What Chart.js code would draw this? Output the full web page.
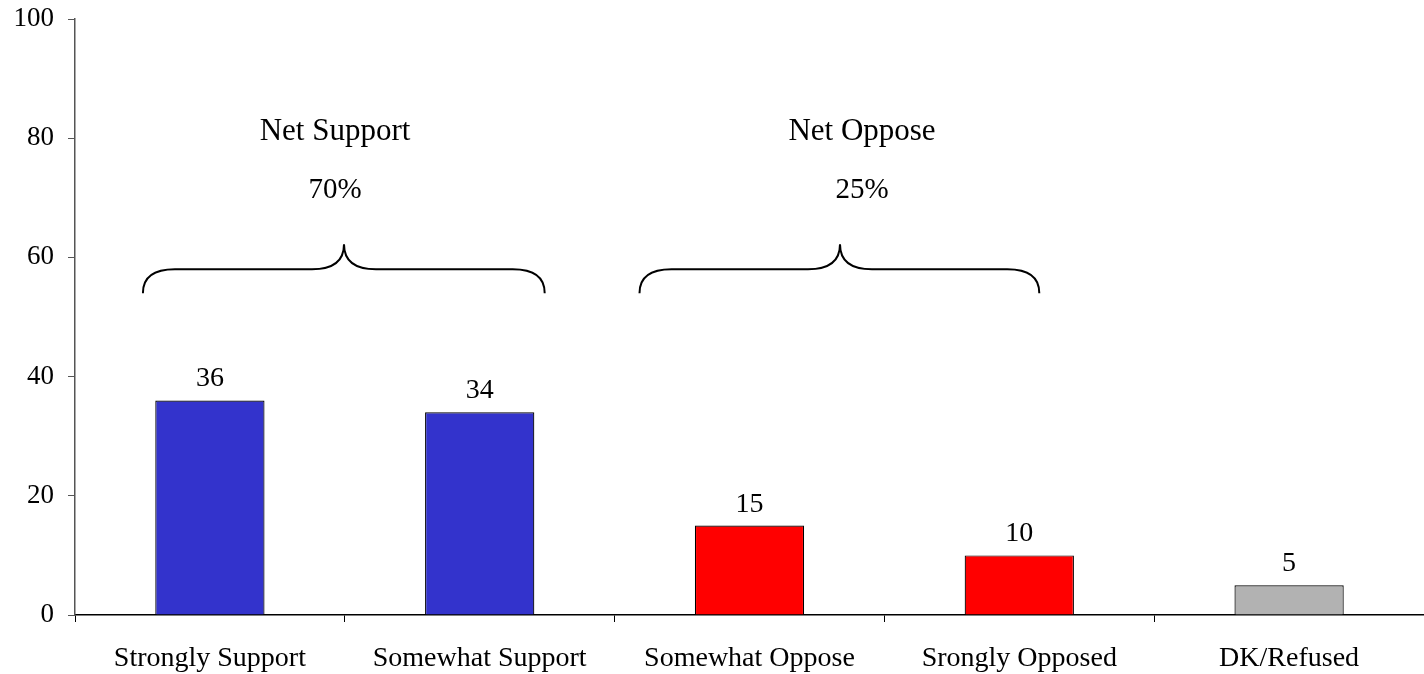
<!DOCTYPE html>
<html>
<head>
<meta charset="utf-8">
<script src="https://cdn.jsdelivr.net/npm/chart.js@4/dist/chart.umd.min.js"></script>
<style>
  html, body { margin: 0; padding: 0; background: #fff; }
  #wrap { width: 1424px; height: 674px; }
</style>
</head>
<body>
<div id="wrap"><canvas id="chart" width="1424" height="674"></canvas></div>
<script>
// chart values
const categories = ["Strongly Support", "Somewhat Support", "Somewhat Oppose", "Srongly Opposed", "DK/Refused"];
const values = [36, 34, 15, 10, 5];
const barColors = ["#3333CC", "#3333CC", "#FF0000", "#FF0000", "#B2B2B2"];
const yTicks = [0, 20, 40, 60, 80, 100];

// brace groups: title, net value
const groupTitles = ["Net Support", "Net Oppose"];
const groupNets = ["70%", "25%"];

const FONT = "'Liberation Serif', 'Times New Roman', serif";

// draws the value labels over the bars
const barLabels = {
  id: "barLabels",
  afterDatasetsDraw(chart) {
    const ctx = chart.ctx;
    const meta = chart.getDatasetMeta(0);
    ctx.save();
    ctx.font = `28px ${FONT}`;
    ctx.fillStyle = "#000";
    ctx.textAlign = "center";
    ctx.textBaseline = "alphabetic";
    meta.data.forEach((bar, i) => {
      ctx.fillText(values[i], bar.x, bar.y - 14);
    });
    ctx.restore();
  },
};

// curly braces with group titles above the bars
const braces = {
  id: "braces",
  afterDraw(chart) {
    const ctx = chart.ctx;
    const xs = chart.scales.x;
    const ys = chart.scales.y;
    const spans = [
      { left: xs.getPixelForValue(0) - 67, right: xs.getPixelForValue(1) + 65, tip: 344, text: 335 },
      { left: xs.getPixelForValue(2) - 110, right: xs.getPixelForValue(3) + 20, tip: 840, text: 862 },
    ];
    const yEnd = ys.getPixelForValue(54);
    const yFlat = ys.getPixelForValue(58);
    const yTip = ys.getPixelForValue(62.2);
    ctx.save();
    ctx.strokeStyle = "#000";
    ctx.lineWidth = 2;
    spans.forEach((s, i) => {
      ctx.beginPath();
      ctx.moveTo(s.left, yEnd);
      ctx.quadraticCurveTo(s.left, yFlat, s.left + 32, yFlat);
      ctx.lineTo(s.tip - 32, yFlat);
      ctx.quadraticCurveTo(s.tip, yFlat, s.tip, yTip);
      ctx.quadraticCurveTo(s.tip, yFlat, s.tip + 32, yFlat);
      ctx.lineTo(s.right - 32, yFlat);
      ctx.quadraticCurveTo(s.right, yFlat, s.right, yEnd);
      ctx.stroke();

      ctx.fillStyle = "#000";
      ctx.textAlign = "center";
      ctx.textBaseline = "middle";
      ctx.font = `31px ${FONT}`;
      ctx.fillText(groupTitles[i], s.text, ys.getPixelForValue(81));
      ctx.font = `29px ${FONT}`;
      ctx.fillText(groupNets[i], s.text, ys.getPixelForValue(71.3));
    });
    ctx.restore();
  },
};

new Chart(document.getElementById("chart"), {
  type: "bar",
  data: {
    labels: categories,
    datasets: [
      {
        data: values,
        backgroundColor: barColors,
        borderColor: "#000",
        borderWidth: 1.2,
        borderSkipped: "bottom",
        barPercentage: 0.405,
        categoryPercentage: 1,
      },
    ],
  },
  options: {
    responsive: false,
    animation: false,
    layout: { padding: { top: 19, right: 0, bottom: 0, left: 0 } },
    plugins: {
      legend: { display: false },
      tooltip: { enabled: false },
    },
    scales: {
      x: {
        offset: true,
        grid: {
          offset: true,
          drawOnChartArea: false,
          drawTicks: true,
          tickLength: 7,
          color: "#000",
        },
        border: { color: "#000", width: 1.5 },
        ticks: {
          color: "#000",
          font: { family: FONT, size: 28 },
          padding: 20,
          maxRotation: 0,
          autoSkip: false,
        },
        afterFit(scale) {
          scale.height = 59;
          scale.paddingLeft = 0;
          scale.paddingRight = 0;
        },
      },
      y: {
        min: 0,
        max: 100,
        afterBuildTicks(scale) {
          scale.ticks = yTicks.map(v => ({ value: v }));
        },
        grid: {
          drawOnChartArea: false,
          drawTicks: true,
          tickLength: 7,
          color: "#555",
        },
        border: { color: "#555", width: 1.5 },
        ticks: {
          color: "#000",
          font: { family: FONT, size: 27 },
          padding: 14,
        },
        afterFit(scale) {
          scale.width = 75;
          scale.paddingTop = 0;
          scale.paddingBottom = 0;
        },
      },
    },
  },
  plugins: [barLabels, braces],
});
</script>
</body>
</html>
